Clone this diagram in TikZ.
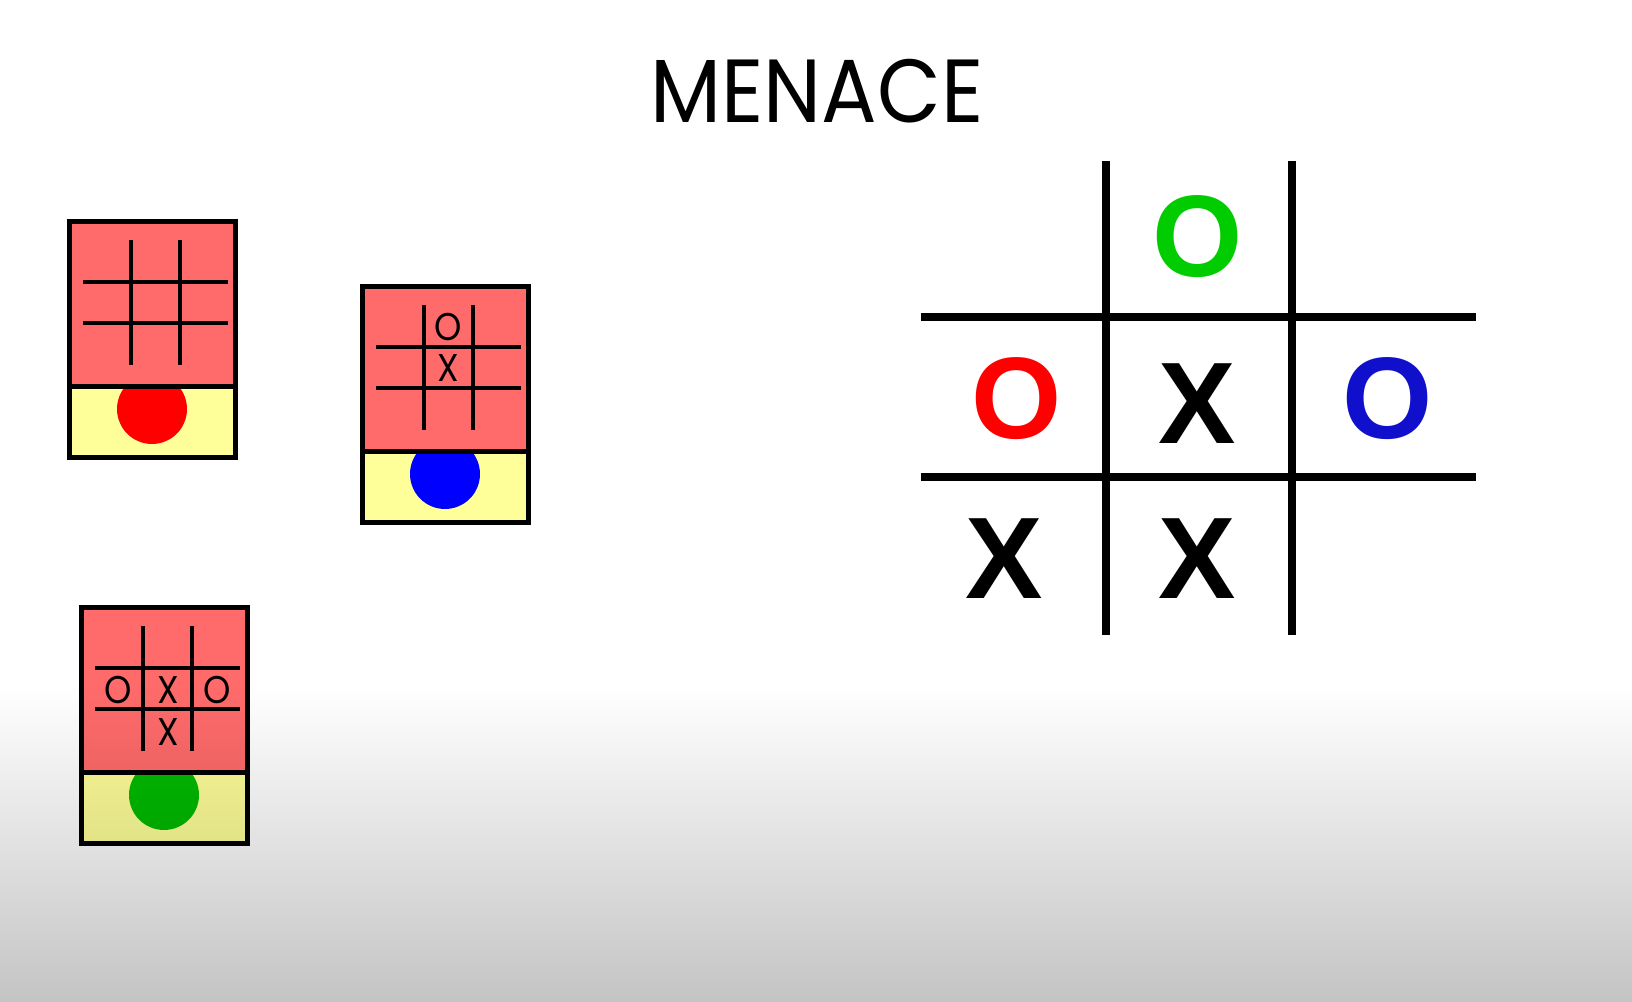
\documentclass[tikz,border=0pt]{standalone}
\usepackage{fontspec}
\setmainfont{Liberation Sans}
\newfontfamily\menacefont{Poppins}
\usetikzlibrary{positioning,calc}
\definecolor{BoxRed}{HTML}{FF6B6B}
\definecolor{BoxYellow}{HTML}{FFFF99}
\definecolor{BeadRed}{HTML}{FF0000}
\definecolor{BeadBlue}{HTML}{0000FF}
\definecolor{BeadGreen}{HTML}{00BB00}
\definecolor{MarkGreen}{HTML}{00CC00}
\definecolor{MarkRed}{HTML}{FF0000}
\definecolor{MarkBlue}{HTML}{1010CC}
\definecolor{FloorGray}{HTML}{C4C4C4}

\begin{document}
\begin{tikzpicture}[x=0.1mm, y=-0.1mm,
    every node/.style={inner sep=0pt},
    boxline/.style={line width=0.5mm},
    gridline/.style={line width=0.45mm},
    boardline/.style={line width=0.75mm},
    smallmark/.style={font=\menacefont\fontsize{11}{11}\selectfont, xscale=0.9, transform shape},
    bigmark/.style={font=\bfseries\fontsize{33}{33}\selectfont}]
  \useasboundingbox (0,0) rectangle (1632,1002);
  \fill[white] (0,0) rectangle (1632,1002);

  \node[font=\menacefont\fontsize{25.5}{25.5}\selectfont, anchor=base, xscale=0.92, transform shape] (title) at (817,123) {MENACE};

  % matchboxes: red lid with a board, yellow tray with one bead
  \foreach \nm/\bx/\by/\col in {boxA/69/222/BeadRed, boxB/362/287/BeadBlue, boxC/81/608/BeadGreen}{
    \begin{scope}[shift={(\bx,\by)}]
      \coordinate (\nm) at (0,0);
      \draw[boxline, fill=BoxYellow] (0,165) rectangle (166,236);
      \fill[\col] (83,187) circle (35);
      \draw[boxline, fill=BoxRed] (0,0) rectangle (166,165);
      \draw[gridline] (62,18) -- (62,143) (111,18) -- (111,143)
                      (14,60) -- (159,60) (14,101) -- (159,101);
    \end{scope}
  }

  \foreach \nm/\px/\py/\mk in {bO1/448/327/O, bX1/448/368/X,
                               cO1/118/690/O, cX1/168/690/X, cO2/217/690/O, cX2/168/732/X}{
    \node[smallmark] (\nm) at (\px,\py) {\mk};
  }

  % the big board
  \draw[boardline] (1106,161) -- (1106,635) (1292,161) -- (1292,635)
                   (921,317) -- (1476,317) (921,477) -- (1476,477);

  \foreach \nm/\px/\py/\col/\mk in {topO/1198/237/MarkGreen/O, leftO/1017/399/MarkRed/O,
                                    midX/1197/404/black/X, rightO/1388/399/MarkBlue/O,
                                    lowX/1004/559/black/X, lowmidX/1197/559/black/X}{
    \node[bigmark, text=\col] (\nm) at (\px,\py) {\mk};
  }

  \begin{scope}[blend mode=multiply]
    \shade[top color=white, bottom color=FloorGray] (0,685) rectangle (1632,1002);
  \end{scope}
\end{tikzpicture}
\end{document}
